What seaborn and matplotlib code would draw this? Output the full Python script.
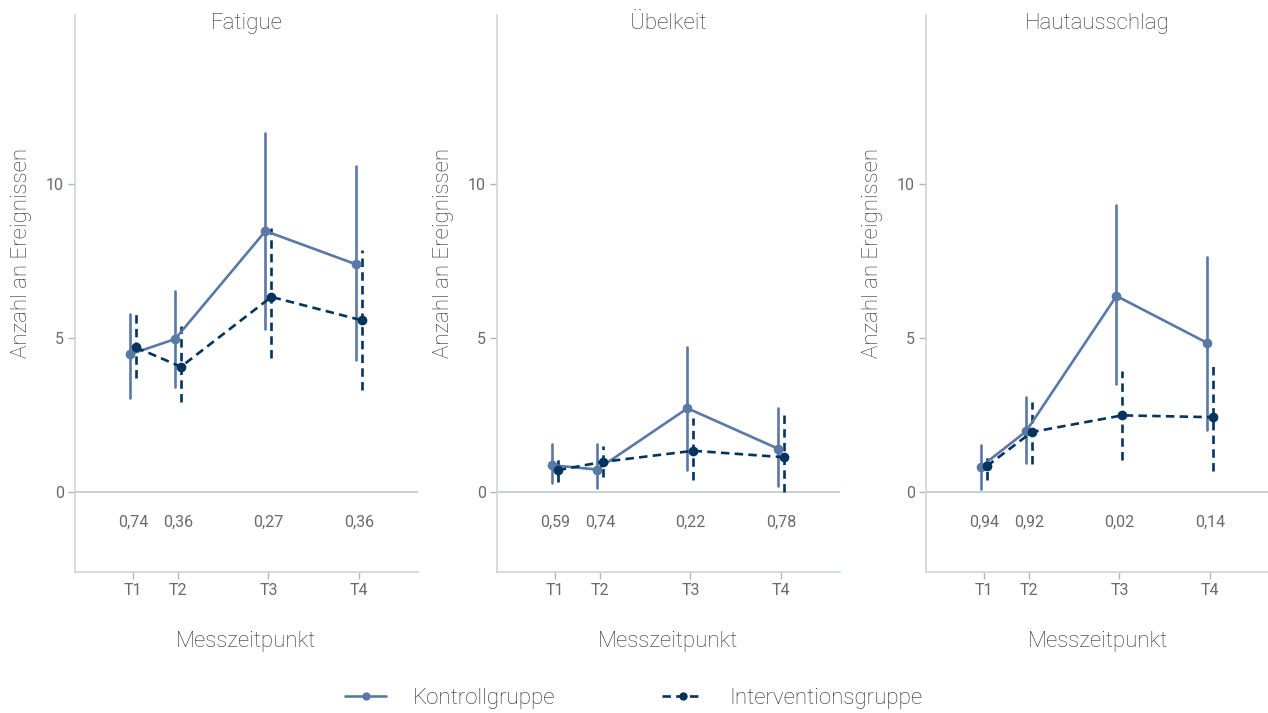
import matplotlib
matplotlib.use("Agg")
import matplotlib.pyplot as plt
import seaborn as sns
import numpy as np
import pandas as pd

# Messzeitpunkte (abstände wie im original: T1..T4 bei 0, 1, 3, 5)
zeitpunkte = ["T1", "T2", "T3", "T4"]
zeit_pos = [0, 1, 3, 5]
gruppen = ["Kontrollgruppe", "Interventionsgruppe"]
symptome = ["Fatigue", "Übelkeit", "Hautausschlag"]

# Mittelwerte und Konfidenzintervalle pro Symptom
fatigue_k = [4.47, 4.97, 8.48, 7.40]
fatigue_k_lo = [3.07, 3.42, 5.31, 4.29]
fatigue_k_hi = [5.80, 6.53, 11.65, 10.60]
fatigue_i = [4.70, 4.07, 6.34, 5.58]
fatigue_i_lo = [3.69, 2.93, 4.34, 3.33]
fatigue_i_hi = [5.80, 5.40, 8.57, 7.86]

uebelkeit_k = [0.87, 0.73, 2.72, 1.41]
uebelkeit_k_lo = [0.28, 0.14, 0.73, 0.19]
uebelkeit_k_hi = [1.56, 1.56, 4.71, 2.72]
uebelkeit_i = [0.71, 0.98, 1.34, 1.13]
uebelkeit_i_lo = [0.32, 0.50, 0.39, 0.00]
uebelkeit_i_hi = [1.09, 1.48, 2.40, 2.50]

haut_k = [0.82, 1.97, 6.37, 4.85]
haut_k_lo = [0.09, 0.93, 3.51, 2.03]
haut_k_hi = [1.52, 3.08, 9.31, 7.63]
haut_i = [0.84, 1.95, 2.49, 2.43]
haut_i_lo = [0.39, 0.90, 1.03, 0.68]
haut_i_hi = [1.24, 2.94, 3.92, 4.11]

p_fatigue = ["0,74", "0,36", "0,27", "0,36"]
p_uebelkeit = ["0,59", "0,74", "0,22", "0,78"]
p_haut = ["0,94", "0,92", "0,02", "0,14"]

# in tabellen zusammenbauen
rows = []
werte = {
    "Fatigue": [(fatigue_k, fatigue_k_lo, fatigue_k_hi), (fatigue_i, fatigue_i_lo, fatigue_i_hi)],
    "Übelkeit": [(uebelkeit_k, uebelkeit_k_lo, uebelkeit_k_hi), (uebelkeit_i, uebelkeit_i_lo, uebelkeit_i_hi)],
    "Hautausschlag": [(haut_k, haut_k_lo, haut_k_hi), (haut_i, haut_i_lo, haut_i_hi)],
}
for sym in symptome:
    for g, (m, lo, hi) in zip(gruppen, werte[sym]):
        for t, x, mm, l, h in zip(zeitpunkte, zeit_pos, m, lo, hi):
            rows.append({"Symptom": sym, "Gruppe": g, "Zeit": t, "x": x,
                         "Mittel": mm, "lo": l, "hi": h})
df = pd.DataFrame(rows)
pwerte = {"Fatigue": p_fatigue, "Übelkeit": p_uebelkeit, "Hautausschlag": p_haut}

sns.set_style("white")
plt.rcParams["font.family"] = ["Roboto", "DejaVu Sans"]
plt.rcParams["font.weight"] = "light"

farben = {"Kontrollgruppe": "#5a78a5", "Interventionsgruppe": "#03335f"}
versatz = {"Kontrollgruppe": -0.065, "Interventionsgruppe": 0.065}
muster = {"Kontrollgruppe": "", "Interventionsgruppe": (3.2, 2.0)}
achse_farbe = "#cdd3de"
text_farbe = "#6a6a6a"
titel_farbe = "#2e2e2e"

fig = plt.figure(figsize=(12.68, 7.13), dpi=100)
lefts = [75, 497, 926]
axes = []
for i, sym in enumerate(symptome):
    ax = fig.add_axes([lefts[i] / 1268, 1 - 572 / 713, 343 / 1268, 557 / 713])
    axes.append(ax)
    d = df[df["Symptom"] == sym].copy()
    d["xd"] = d["x"] + d["Gruppe"].map(versatz)

    ax.axhline(0, color="#b3c3d6", lw=1.1, zorder=1)

    sns.lineplot(data=d, x="xd", y="Mittel", hue="Gruppe", style="Gruppe",
                 hue_order=gruppen, style_order=gruppen, palette=farben,
                 dashes=muster, markers={"Kontrollgruppe": "o", "Interventionsgruppe": "o"},
                 markersize=7, markeredgewidth=0, lw=1.9, ax=ax, legend=(i == 0),
                 zorder=3)
    for g in gruppen:
        dg = d[d["Gruppe"] == g]
        for _, r in dg.iterrows():
            ln = ax.plot([r["xd"], r["xd"]], [r["lo"], r["hi"]], color=farben[g],
                         lw=1.9, zorder=2)[0]
            if g != "Kontrollgruppe":
                ln.set_dashes(muster[g])

    for x, p in zip(zeit_pos, pwerte[sym]):
        ax.text(x, -1.0, p, ha="center", va="center", fontsize=11.5,
                color=text_farbe, fontweight="normal")

    ax.set_xlim(-1.28, 6.31)
    ax.set_ylim(-2.6, 15.5)
    ax.set_xticks(zeit_pos)
    ax.set_xticklabels(zeitpunkte)
    ax.set_yticks([0, 5, 10])
    ax.tick_params(axis="both", bottom=True, left=True, length=5, width=1,
                   color="#b0b5bf", labelsize=11.5, labelcolor=text_farbe, pad=3)
    for lab in ax.get_xticklabels() + ax.get_yticklabels():
        lab.set_fontweight("normal")
    for s in ["top", "right"]:
        ax.spines[s].set_visible(False)
    for s in ["left", "bottom"]:
        ax.spines[s].set_color(achse_farbe)
        ax.spines[s].set_linewidth(1.2)
    ax.set_xlabel("Messzeitpunkt", fontsize=16, color=titel_farbe, labelpad=24,
                  fontweight="light")
    ax.set_ylabel("Anzahl an Ereignissen", fontsize=16, color=titel_farbe,
                  fontweight="light")
    ax.yaxis.set_label_coords(-0.125, 0.573)
    ax.text(0.5, 0.984, sym, transform=ax.transAxes, ha="center", va="center",
            fontsize=16, color=titel_farbe, fontweight="light")

# gemeinsame legende unten
handles, labels = axes[0].get_legend_handles_labels()
axes[0].get_legend().remove()
for h in handles:
    h.set_linewidth(1.9)
    h.set_markersize(6)
fig.legend(handles, labels, loc="lower center", ncol=2, frameon=False,
           handlelength=1.85, columnspacing=4.8, handletextpad=1.2,
           bbox_to_anchor=(0.5, -0.022), prop={"weight": "light", "size": 16})

fig.savefig("out.png", dpi=100)
